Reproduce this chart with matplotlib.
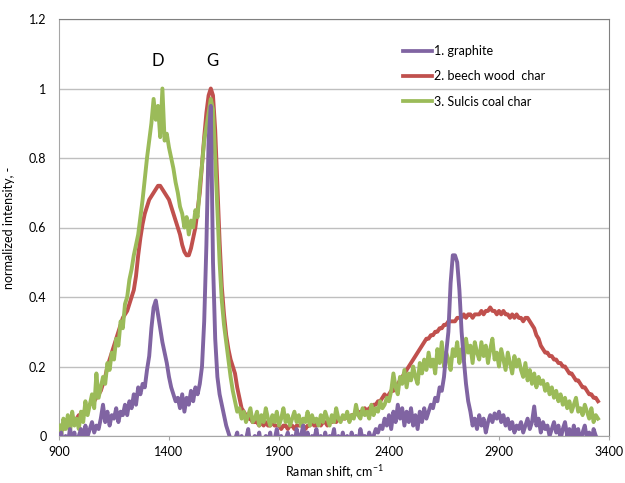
import numpy as np
import matplotlib.pyplot as plt

# Raman spectra, normalized intensity, sampled every 10 cm-1 from 900 cm-1
graphite = [
    -0.02, 0.01, -0.03, 0.00, -0.02, 0.02, -0.01, 0.01, -0.03, 0.00,
    0.02, -0.01, 0.03, 0.00, 0.02, 0.04, 0.01, 0.03, 0.02, 0.05,
    0.09, 0.04, 0.07, 0.03, 0.06, 0.05, 0.08, 0.04, 0.07, 0.06,
    0.09, 0.06, 0.10, 0.08, 0.12, 0.09, 0.14, 0.12, 0.15, 0.14,
    0.19, 0.23, 0.31, 0.37, 0.39, 0.35, 0.31, 0.27, 0.24, 0.21,
    0.17, 0.14, 0.12, 0.10, 0.11, 0.08, 0.12, 0.07, 0.11, 0.09,
    0.13, 0.10, 0.14, 0.12, 0.15, 0.20, 0.33, 0.55, 0.85, 0.95,
    0.50, 0.28, 0.17, 0.12, 0.09, 0.06, 0.03, 0.01, -0.01, -0.02,
    -0.01, 0.01, -0.03, 0.00, -0.02, -0.01, 0.02, -0.03, -0.01, 0.00,
    -0.02, 0.01, -0.03, -0.01, 0.00, -0.02, 0.01, -0.03, -0.01, 0.02,
    -0.02, 0.00, -0.03, -0.01, 0.01, -0.02, 0.00, -0.03, 0.02, -0.01,
    0.00, 0.03, -0.02, 0.01, -0.03, 0.00, -0.01, 0.02, -0.02, 0.00,
    -0.03, 0.01, -0.02, 0.00, -0.01, 0.02, -0.03, 0.00, -0.02, 0.01,
    -0.02, 0.00, -0.03, 0.01, -0.01, 0.00, -0.02, 0.02, -0.01, 0.00,
    -0.02, 0.01, -0.01, 0.00, 0.02, 0.01, 0.03, 0.02, 0.05, 0.03,
    0.06, 0.02, 0.07, 0.04, 0.09, 0.05, 0.08, 0.03, 0.07, 0.04,
    0.08, 0.03, 0.06, 0.02, 0.07, 0.04, 0.08, 0.05, 0.07, 0.09,
    0.08, 0.11, 0.10, 0.14, 0.13, 0.17, 0.24, 0.30, 0.44, 0.52,
    0.52, 0.50, 0.42, 0.30, 0.22, 0.15, 0.10, 0.07, 0.03, 0.05,
    0.02, 0.06, 0.03, 0.05, 0.01, 0.04, 0.06, 0.04, 0.065, 0.05,
    0.07, 0.04, 0.06, 0.03, 0.05, 0.02, 0.04, 0.01, 0.03, 0.02,
    0.04, 0.01, 0.03, 0.05, 0.02, 0.04, 0.085, 0.03, 0.05, 0.01,
    0.04, 0.02, 0.03, 0.00, 0.02, 0.04, 0.01, 0.03, -0.01, 0.02,
    0.04, 0.00, 0.02, -0.01, 0.03, 0.00, 0.02, -0.02, 0.01, 0.03,
    -0.01, 0.01, -0.02, 0.02, 0.00, -0.01,
]

beech_char = [
    0.02, 0.03, 0.02, 0.04, 0.03, 0.04, 0.05, 0.04, 0.05, 0.06,
    0.06, 0.07, 0.07, 0.08, 0.09, 0.10, 0.10, 0.11, 0.12, 0.13,
    0.15, 0.17, 0.20, 0.22, 0.24, 0.26, 0.28, 0.30, 0.32, 0.34,
    0.35, 0.36, 0.38, 0.40, 0.42, 0.46, 0.52, 0.57, 0.61, 0.64,
    0.66, 0.68, 0.69, 0.70, 0.71, 0.72, 0.72, 0.71, 0.70, 0.69,
    0.68, 0.66, 0.64, 0.62, 0.60, 0.58, 0.55, 0.53, 0.52, 0.52,
    0.54, 0.57, 0.60, 0.65, 0.70, 0.78, 0.86, 0.93, 0.98, 1.00,
    0.98, 0.88, 0.72, 0.56, 0.43, 0.35, 0.29, 0.25, 0.22, 0.20,
    0.18, 0.14, 0.11, 0.08, 0.07, 0.06, 0.05, 0.05, 0.04, 0.04,
    0.04, 0.03, 0.04, 0.03, 0.04, 0.03, 0.03, 0.04, 0.03, 0.03,
    0.03, 0.02, 0.03, 0.03, 0.02, 0.03, 0.03, 0.02, 0.03, 0.03,
    0.03, 0.03, 0.02, 0.03, 0.03, 0.04, 0.03, 0.03, 0.04, 0.03,
    0.04, 0.04, 0.03, 0.04, 0.04, 0.05, 0.04, 0.05, 0.05, 0.05,
    0.05, 0.06, 0.05, 0.06, 0.06, 0.07, 0.06, 0.07, 0.07, 0.08,
    0.07, 0.08, 0.08, 0.09, 0.09, 0.10, 0.10, 0.11, 0.12, 0.11,
    0.12, 0.13, 0.13, 0.14, 0.15, 0.16, 0.17, 0.18, 0.19, 0.20,
    0.21, 0.22, 0.23, 0.24, 0.25, 0.26, 0.27, 0.28, 0.28, 0.29,
    0.29, 0.30, 0.30, 0.31, 0.31, 0.32, 0.32, 0.33, 0.33, 0.33,
    0.33, 0.34, 0.34, 0.34, 0.35, 0.34, 0.35, 0.35, 0.34, 0.35,
    0.35, 0.35, 0.36, 0.35, 0.36, 0.36, 0.37, 0.36, 0.36, 0.35,
    0.36, 0.35, 0.36, 0.35, 0.35, 0.34, 0.35, 0.34, 0.35, 0.34,
    0.34, 0.33, 0.34, 0.34, 0.33, 0.32, 0.31, 0.29, 0.28, 0.26,
    0.25, 0.24, 0.24, 0.23, 0.23, 0.22, 0.22, 0.21, 0.21, 0.20,
    0.20, 0.19, 0.18, 0.18, 0.17, 0.16, 0.16, 0.15, 0.14, 0.14,
    0.13, 0.12, 0.12, 0.11, 0.11, 0.10,
]

sulcis_char = [
    0.03, 0.00, 0.05, 0.02, 0.06, 0.01, 0.07, 0.03, 0.05, 0.02,
    0.07, 0.04, 0.10, 0.06, 0.09, 0.12, 0.08, 0.18, 0.11, 0.14,
    0.17, 0.15, 0.21, 0.19, 0.24, 0.22, 0.28, 0.26, 0.33, 0.31,
    0.38, 0.40, 0.45, 0.48, 0.52, 0.55, 0.58, 0.63, 0.68, 0.74,
    0.80, 0.85, 0.90, 0.97, 0.91, 0.95, 0.86, 1.00, 0.85, 0.87,
    0.83, 0.80, 0.77, 0.73, 0.70, 0.66, 0.64, 0.60, 0.63, 0.58,
    0.62, 0.60, 0.65, 0.63, 0.72, 0.78, 0.85, 0.89, 0.93, 0.97,
    0.94, 0.80, 0.65, 0.50, 0.39, 0.32, 0.27, 0.22, 0.17, 0.13,
    0.10, 0.07, 0.08, 0.05, 0.07, 0.04, 0.06, 0.08, 0.04, 0.05,
    0.07, 0.03, 0.06, 0.04, 0.08, 0.05, 0.03, 0.06, 0.04, 0.07,
    0.03, 0.05, 0.08, 0.04, 0.06, 0.03, 0.05, 0.07, 0.04, 0.06,
    0.03, 0.05, 0.04, 0.07, 0.03, 0.06, 0.04, 0.05, 0.03, 0.06,
    0.04, 0.07, 0.05, 0.03, 0.06, 0.04, 0.08, 0.05, 0.04, 0.06,
    0.05, 0.07, 0.04, 0.06, 0.05, 0.09, 0.06, 0.05, 0.08, 0.06,
    0.07, 0.05, 0.09, 0.06, 0.08, 0.07, 0.10, 0.08, 0.09, 0.11,
    0.10, 0.13, 0.18, 0.14, 0.12, 0.17, 0.15, 0.19, 0.14, 0.18,
    0.16, 0.20, 0.17, 0.15, 0.21, 0.18, 0.22, 0.19, 0.24, 0.20,
    0.22, 0.18, 0.25, 0.21, 0.27, 0.20, 0.24, 0.22, 0.19, 0.25,
    0.23, 0.27, 0.21, 0.25, 0.22, 0.28, 0.24, 0.26, 0.21, 0.27,
    0.24, 0.22, 0.27, 0.23, 0.26, 0.21, 0.25, 0.28, 0.22, 0.24,
    0.20, 0.25, 0.22, 0.19, 0.24, 0.21, 0.18, 0.23, 0.20, 0.22,
    0.19, 0.17, 0.21, 0.16, 0.19, 0.15, 0.18, 0.14, 0.17, 0.15,
    0.16, 0.13, 0.15, 0.12, 0.14, 0.11, 0.13, 0.10, 0.12, 0.09,
    0.11, 0.08, 0.10, 0.07, 0.09, 0.11, 0.07, 0.08, 0.06, 0.09,
    0.07, 0.05, 0.08, 0.04, 0.06, 0.05,
]

assert len(graphite) == len(beech_char) == len(sulcis_char)
shift = np.arange(900, 900 + 10 * len(graphite), 10)

labels = ['1. graphite', '2. beech wood  char', '3. Sulcis coal char']
colors = ['#8064A2', '#C0504D', '#9BBB59']

plt.rcParams['font.family'] = ['Lato', 'DejaVu Sans']

fig = plt.figure(figsize=(6.25, 4.83), dpi=100)
ax = fig.add_axes([59 / 625, 1 - 436 / 483, 550 / 625, 417 / 483])

# graphite drawn on top, green over red
ax.plot(shift, beech_char, color=colors[1], lw=2.8, zorder=3)
ax.plot(shift, sulcis_char, color=colors[2], lw=2.8, zorder=4)
ax.plot(shift, graphite, color=colors[0], lw=2.8, zorder=5)

ax.set_xlim(900, 3400)
ax.set_ylim(0, 1.2)
ax.set_xticks([900, 1400, 1900, 2400, 2900, 3400])
ax.set_yticks([0, 0.2, 0.4, 0.6, 0.8, 1.0, 1.2])
ax.set_yticklabels(['0', '0.2', '0.4', '0.6', '0.8', '1', '1.2'])
ax.yaxis.grid(True, color='#BFBFBF', lw=1.0)
ax.set_axisbelow(True)

ax.tick_params(axis='x', length=3, color='#A6A6A6', labelsize=9, pad=4)
ax.tick_params(axis='y', length=0, labelsize=9, pad=9)
for side in ['top', 'right']:
    ax.spines[side].set_color('#808080')
for side in ['left', 'bottom']:
    ax.spines[side].set_color('#A6A6A6')

ax.set_xlabel('Raman shift, cm$^{\\mathregular{-1}}$', fontsize=9, labelpad=4)
ax.set_ylabel('normalized intensity, -', fontsize=9, labelpad=10)

ax.text(1350, 1.08, 'D', fontsize=12, ha='center', va='center')
ax.text(1595, 1.08, 'G', fontsize=12, ha='center', va='center')

legend_handles = [plt.Line2D([], [], color=c, lw=2.7) for c in colors]
ax.legend(legend_handles, labels,
          loc='upper left', bbox_to_anchor=(0.625, 0.937), frameon=False,
          fontsize=9, handlelength=2.3, handletextpad=0.2,
          labelspacing=1.05, borderpad=0, borderaxespad=0)

fig.savefig('out.png', dpi=100)
